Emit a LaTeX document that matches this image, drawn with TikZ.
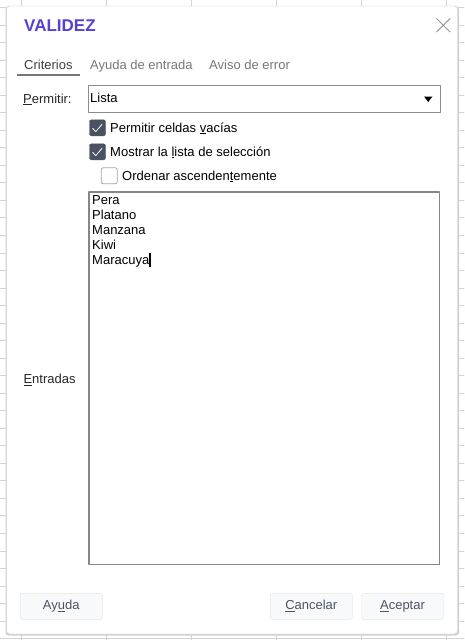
\documentclass[tikz,border=0pt]{standalone}
\usepackage{fontspec}
\setmainfont{Liberation Sans}
\usetikzlibrary{positioning}
\definecolor{titlepurple}{HTML}{5A3FD0}
\definecolor{gridgray}{HTML}{D4D4D4}
\definecolor{framegray}{HTML}{C4C4C8}
\definecolor{boxslate}{HTML}{4A5163}
\definecolor{tabgray}{HTML}{777777}
\definecolor{btntext}{HTML}{4C5366}
\definecolor{btnfill}{HTML}{F8F9FA}
\definecolor{btnline}{HTML}{E6E7EA}
\newcommand\acc[1]{\setbox0\hbox{#1}\rlap{\rule[-2.2pt]{\wd0}{0.9pt}}#1}

\begin{document}
\begin{tikzpicture}[line cap=round,line join=round,x=1pt,y=-1pt,
  txt/.style={inner sep=0pt,anchor=base west,font=\fontsize{13}{15}\selectfont,text=black},
  tab/.style={txt,text=tabgray},
  chk/.style={draw=boxslate,fill=boxslate,rounded corners=2pt,minimum size=16pt,inner sep=0pt},
  unchk/.style={draw=gray!70,fill=white,rounded corners=2pt,minimum size=16pt,inner sep=0pt,line width=0.8pt},
  btn/.style={draw=btnline,fill=btnfill,rounded corners=2pt,minimum width=82pt,minimum height=26pt,
    inner sep=0pt,font=\fontsize{13}{15}\selectfont,text=btntext}]
\useasboundingbox (0,0) rectangle (464,640);
\fill[white] (0,0) rectangle (464,640);
%rejilla de la hoja
\foreach \x in {0,...,5}
{\draw[gridgray,line width=0.8pt] (21.3+85*\x,0) -- (21.3+85*\x,640);}
\foreach \y in {0,...,36}
{\draw[gridgray,line width=0.8pt] (0,7.5+17.53*\y) -- (464,7.5+17.53*\y);}

%dialogo
\fill[black!18,rounded corners=3pt] (5.5,6.5) rectangle (459,635.5);
\draw[framegray,fill=white,rounded corners=3pt] (6.5,6) rectangle (457.5,634);
\node[txt,font=\bfseries\fontsize{17}{20}\selectfont,text=titlepurple] (titulo) at (24,31) {VALIDEZ};
\coordinate (cerrar) at (443.3,25.3);
\draw[gray!80,line width=1pt] ([shift={(-6.7,-6.7)}]cerrar) -- ([shift={(6.7,6.7)}]cerrar);
\draw[gray!80,line width=1pt] ([shift={(-6.7,6.7)}]cerrar) -- ([shift={(6.7,-6.7)}]cerrar);

%pestanas
\node[txt,text=black!75] (criterios) at (24,69) {Criterios};
\node[tab] (ayudaent) at (90,69) {Ayuda de entrada};
\node[tab] (aviso) at (209,69) {Aviso de error};
\draw[tabgray,line width=2pt,line cap=butt] (17,74.5) -- (80,74.5);

%permitir
\node[txt,text=black!85] (permitir) at (23,103) {\acc{P}ermitir:};
\draw[gray!90,line width=1pt] (88.5,85.5) rectangle (440,112);
\node[txt] (lista) at (90,102) {Lista};
\fill (424,96.5) -- (432.5,96.5) -- (428.2,102) -- cycle;

%casillas
\node[chk] (cb1) at (97.5,127.8) {};
\node[chk] (cb2) at (97.5,151.8) {};
\node[unchk] (cb3) at (109.3,175.8) {};
\foreach \c in {cb1,cb2}
{\draw[white,line width=0.8pt] ([shift={(-4.8,0.6)}]\c.center) -- ([shift={(-1.8,3.8)}]\c.center) -- ([shift={(4.6,-3.6)}]\c.center);}
\node[txt] (vacias) at (110,132) {Permitir celdas \acc{v}acías};
\node[txt] (mostrar) at (110,156) {Mostrar la \acc{l}ista de selección};
\node[txt] (ordenar) at (122,180) {Ordenar ascenden\acc{t}emente};

%entradas
\draw[gray!95,line width=1.4pt] (89,192) rectangle (439.3,564.3);
\node[txt] (e1) at (92,204) {Pera};
\node[txt] (e2) at (92,219) {Platano};
\node[txt] (e3) at (92,234) {Manzana};
\node[txt] (e4) at (92,249) {Kiwi};
\node[txt] (e5) at (92,264) {Maracuya};
\draw[black,line width=1.5pt,line cap=butt] ([xshift=0.6pt,yshift=-3pt]e5.base east) -- ([xshift=0.6pt,yshift=11pt]e5.base east);
\node[txt,text=black!85] (entradas) at (23.3,383.3) {\acc{E}ntradas};

%botones
\node[btn] (ayuda) at (61.3,606.3) {Ay\acc{u}da};
\node[btn] (cancelar) at (311.3,606.3) {\acc{C}ancelar};
\node[btn] (aceptar) at (402.5,606.3) {\acc{A}ceptar};
\end{tikzpicture}
\end{document}
